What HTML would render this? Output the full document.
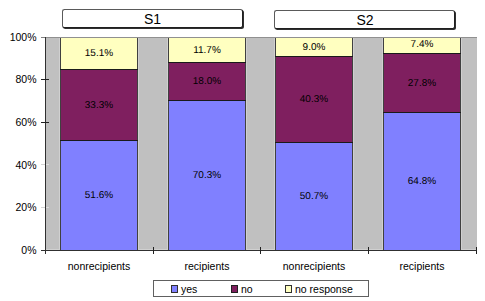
<!DOCTYPE html>
<html><head><meta charset="utf-8">
<style>
html,body{margin:0;padding:0;background:#fff;}
body{width:485px;height:301px;overflow:hidden;position:relative;font-family:"Liberation Sans",sans-serif;}
svg{position:absolute;left:0;top:0;}
.tb{position:absolute;width:179px;height:17px;border:1px solid #000;border-color:#5a5a5a #202020 #202020 #5a5a5a;border-radius:2.5px;box-shadow:1px 1px 0 #303030;background:#fff;}
</style></head><body>
<div class="tb" style="left:62px;top:9px"></div>
<div class="tb" style="left:274px;top:10px"></div>
<svg width="485" height="301" viewBox="0 0 485 301" font-family="Liberation Sans, sans-serif">
  <text x="152.5" y="24" font-size="14" text-anchor="middle">S1</text>
  <text x="365" y="25" font-size="14" text-anchor="middle">S2</text>

  <g shape-rendering="crispEdges">
    <!-- plot area -->
    <rect x="46" y="37" width="431" height="213" fill="#C0C0C0"/>
    <path fill="none" stroke="#d0d0d0" d="M59.5 38 V249 M138.5 38 V249 M167.5 38 V249 M246.5 38 V249 M274.5 38 V249 M353.5 38 V249 M382.5 38 V249 M461.5 38 V249 M46 249.5 H60 M138 249.5 H168 M246 249.5 H275 M353 249.5 H383 M461 249.5 H477"/>
    <!-- bar 1 -->
    <rect x="60" y="37" width="78" height="32" fill="#FFFFC0"/>
    <rect x="60" y="69" width="78" height="71" fill="#7F1F5F"/>
    <rect x="60" y="140" width="78" height="110" fill="#8080FF"/>
    <!-- bar 2 -->
    <rect x="168" y="37" width="78" height="25" fill="#FFFFC0"/>
    <rect x="168" y="62" width="78" height="38" fill="#7F1F5F"/>
    <rect x="168" y="100" width="78" height="150" fill="#8080FF"/>
    <!-- bar 3 -->
    <rect x="275" y="37" width="78" height="19" fill="#FFFFC0"/>
    <rect x="275" y="56" width="78" height="86" fill="#7F1F5F"/>
    <rect x="275" y="142" width="78" height="108" fill="#8080FF"/>
    <!-- bar 4 -->
    <rect x="383" y="37" width="78" height="16" fill="#FFFFC0"/>
    <rect x="383" y="53" width="78" height="59" fill="#7F1F5F"/>
    <rect x="383" y="112" width="78" height="138" fill="#8080FF"/>
    <!-- bar borders -->
    <g fill="none" stroke-width="1">
      <path stroke="#6a6a50" d="M60 37.5 H138 M168 37.5 H246 M275 37.5 H353 M383 37.5 H461"/>
      <path stroke="#404040" d="M60.5 37 V250 M137.5 37 V250 M168.5 37 V250 M245.5 37 V250 M275.5 37 V250 M352.5 37 V250 M383.5 37 V250 M460.5 37 V250"/>
      <path stroke="#1a1a1a" d="M60 69.5 H138 M60 140.5 H138 M168 62.5 H246 M168 100.5 H246 M275 56.5 H353 M275 142.5 H353 M383 53.5 H461 M383 112.5 H461"/>
    </g>
    <!-- axes -->
    <g fill="none" stroke-width="1">
      <path stroke="#909090" d="M46 37.5 H477"/>
      <path stroke="#303030" d="M45.5 37 V254 M41 250.5 H477"/>
      <path stroke="#808080" d="M41 37.5 H45"/>
      <path stroke="#202020" d="M41 79.5 H49 M41 122.5 H49"/>
      <path stroke="#d4d4d4" d="M41 164.5 H45 M41 207.5 H45"/>
      <path stroke="#dcdcdc" d="M46 164.5 H49 M46 207.5 H49"/>
      <path stroke="#202020" d="M153.5 247 V254 M260.5 247 V254 M368.5 247 V254 M476.5 247 V254"/>
    </g>
    <!-- legend -->
    <rect x="153.5" y="280.5" width="215" height="16" fill="#fff" stroke="#606060"/>
    <rect x="171.5" y="285.5" width="6" height="7" fill="#8080FF" stroke="#303030"/>
    <rect x="231.5" y="285.5" width="6" height="7" fill="#7F1F5F" stroke="#202020"/>
    <rect x="285.5" y="285.5" width="6" height="7" fill="#FFFFC0" stroke="#303030"/>
  </g>

  <g font-size="10.5" fill="#000">
    <text x="37" y="41" text-anchor="end" dx="-0.5">100%</text>
    <text x="37" y="83" text-anchor="end" dx="-0.5">80%</text>
    <text x="37" y="126" text-anchor="end" dx="-0.5">60%</text>
    <text x="37" y="169" text-anchor="end" dx="-0.5">40%</text>
    <text x="37" y="211" text-anchor="end" dx="-0.5">20%</text>
    <text x="37" y="254" text-anchor="end" dx="-0.5">0%</text>

    <text x="99" y="269.5" text-anchor="middle">nonrecipients</text>
    <text x="207" y="269.5" text-anchor="middle">recipients</text>
    <text x="314" y="269.5" text-anchor="middle">nonrecipients</text>
    <text x="422" y="269.5" text-anchor="middle">recipients</text>

    <text x="181" y="293">yes</text>
    <text x="241" y="293">no</text>
    <text x="295" y="293">no response</text>
  </g>

  <g font-size="10" fill="#000" text-anchor="middle" text-rendering="geometricPrecision">
    <text x="99" y="56">15.1%</text>
    <text x="99" y="108">33.3%</text>
    <text x="99" y="198">51.6%</text>

    <text x="207" y="53">11.7%</text>
    <text x="207" y="84">18.0%</text>
    <text x="207" y="178">70.3%</text>

    <text x="314" y="50">9.0%</text>
    <text x="314" y="102">40.3%</text>
    <text x="314" y="199">50.7%</text>

    <text x="422" y="47">7.4%</text>
    <text x="422" y="86">27.8%</text>
    <text x="422" y="184">64.8%</text>
  </g>
</svg>
</body></html>
